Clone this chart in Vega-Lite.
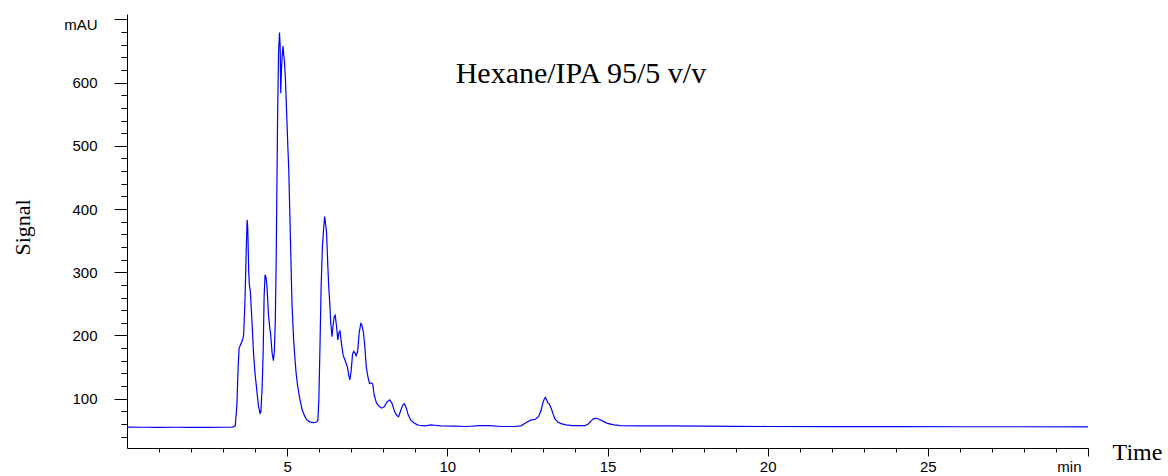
{
  "$schema": "https://vega.github.io/schema/vega-lite/v6.json",
  "autosize": "none",
  "width": 961,
  "height": 434,
  "padding": {"left": 127, "top": 14, "right": 80, "bottom": 28},
  "background": "white",
  "config": {"view": {"stroke": null}},
  "datasets": {
    "trace": [
      {"t": 0, "v": 55}, {"t": 0.5, "v": 54.8}, {"t": 1.0, "v": 54.7}, {"t": 1.5, "v": 54.8}, {"t": 2.0, "v": 54.6},
      {"t": 2.5, "v": 54.7}, {"t": 3.0, "v": 54.8}, {"t": 3.3, "v": 55}, {"t": 3.38, "v": 57}, {"t": 3.43, "v": 90},
      {"t": 3.47, "v": 150}, {"t": 3.5, "v": 180}, {"t": 3.55, "v": 186}, {"t": 3.6, "v": 192}, {"t": 3.64, "v": 200},
      {"t": 3.68, "v": 250}, {"t": 3.72, "v": 330}, {"t": 3.75, "v": 383}, {"t": 3.77, "v": 370}, {"t": 3.8, "v": 300},
      {"t": 3.82, "v": 280}, {"t": 3.85, "v": 270}, {"t": 3.9, "v": 224}, {"t": 3.95, "v": 172}, {"t": 4.0, "v": 138},
      {"t": 4.04, "v": 119}, {"t": 4.1, "v": 90}, {"t": 4.15, "v": 77}, {"t": 4.18, "v": 79}, {"t": 4.22, "v": 120},
      {"t": 4.25, "v": 172}, {"t": 4.28, "v": 260}, {"t": 4.31, "v": 296}, {"t": 4.34, "v": 292}, {"t": 4.37, "v": 277},
      {"t": 4.42, "v": 230}, {"t": 4.46, "v": 210}, {"t": 4.48, "v": 204}, {"t": 4.53, "v": 172}, {"t": 4.57, "v": 160},
      {"t": 4.6, "v": 175}, {"t": 4.63, "v": 224}, {"t": 4.66, "v": 330}, {"t": 4.7, "v": 541}, {"t": 4.73, "v": 646},
      {"t": 4.76, "v": 679}, {"t": 4.78, "v": 660}, {"t": 4.8, "v": 583}, {"t": 4.82, "v": 620}, {"t": 4.85, "v": 646},
      {"t": 4.87, "v": 658}, {"t": 4.9, "v": 640}, {"t": 4.92, "v": 631}, {"t": 4.95, "v": 600}, {"t": 4.98, "v": 557},
      {"t": 5.02, "v": 500}, {"t": 5.05, "v": 462}, {"t": 5.1, "v": 356}, {"t": 5.15, "v": 251}, {"t": 5.2, "v": 195},
      {"t": 5.23, "v": 172}, {"t": 5.28, "v": 140}, {"t": 5.33, "v": 119}, {"t": 5.4, "v": 98}, {"t": 5.47, "v": 82},
      {"t": 5.55, "v": 72}, {"t": 5.62, "v": 66}, {"t": 5.72, "v": 63}, {"t": 5.83, "v": 62}, {"t": 5.92, "v": 63},
      {"t": 5.96, "v": 66}, {"t": 5.99, "v": 100}, {"t": 6.02, "v": 172}, {"t": 6.06, "v": 277}, {"t": 6.1, "v": 340},
      {"t": 6.14, "v": 370}, {"t": 6.17, "v": 388}, {"t": 6.19, "v": 380}, {"t": 6.21, "v": 372}, {"t": 6.23, "v": 362},
      {"t": 6.27, "v": 309}, {"t": 6.3, "v": 275}, {"t": 6.33, "v": 251}, {"t": 6.36, "v": 220}, {"t": 6.4, "v": 198},
      {"t": 6.43, "v": 215}, {"t": 6.47, "v": 230}, {"t": 6.5, "v": 232}, {"t": 6.54, "v": 215}, {"t": 6.58, "v": 193},
      {"t": 6.62, "v": 205}, {"t": 6.65, "v": 207}, {"t": 6.7, "v": 185}, {"t": 6.75, "v": 168}, {"t": 6.8, "v": 162},
      {"t": 6.88, "v": 150}, {"t": 6.93, "v": 135}, {"t": 6.96, "v": 130}, {"t": 7.0, "v": 145}, {"t": 7.04, "v": 170},
      {"t": 7.08, "v": 175}, {"t": 7.12, "v": 172}, {"t": 7.15, "v": 168}, {"t": 7.2, "v": 175}, {"t": 7.25, "v": 205},
      {"t": 7.3, "v": 219}, {"t": 7.33, "v": 217}, {"t": 7.38, "v": 205}, {"t": 7.42, "v": 185}, {"t": 7.47, "v": 150},
      {"t": 7.52, "v": 135}, {"t": 7.57, "v": 124}, {"t": 7.62, "v": 125}, {"t": 7.67, "v": 123}, {"t": 7.72, "v": 105},
      {"t": 7.79, "v": 93}, {"t": 7.87, "v": 88}, {"t": 7.95, "v": 85}, {"t": 8.03, "v": 87}, {"t": 8.12, "v": 95},
      {"t": 8.2, "v": 98}, {"t": 8.27, "v": 93}, {"t": 8.35, "v": 80}, {"t": 8.43, "v": 73}, {"t": 8.48, "v": 71.5},
      {"t": 8.55, "v": 82}, {"t": 8.62, "v": 91}, {"t": 8.66, "v": 92}, {"t": 8.72, "v": 85}, {"t": 8.78, "v": 74},
      {"t": 8.86, "v": 66}, {"t": 8.95, "v": 62}, {"t": 9.05, "v": 59}, {"t": 9.12, "v": 58}, {"t": 9.3, "v": 57},
      {"t": 9.5, "v": 58.5}, {"t": 9.6, "v": 58}, {"t": 9.8, "v": 57}, {"t": 10.2, "v": 56.5}, {"t": 10.6, "v": 56},
      {"t": 11.0, "v": 57.5}, {"t": 11.3, "v": 57.5}, {"t": 11.7, "v": 56}, {"t": 12.1, "v": 56}, {"t": 12.3, "v": 57},
      {"t": 12.45, "v": 62}, {"t": 12.6, "v": 66}, {"t": 12.75, "v": 67.5}, {"t": 12.85, "v": 72}, {"t": 12.93, "v": 82},
      {"t": 12.98, "v": 93}, {"t": 13.03, "v": 100}, {"t": 13.06, "v": 102}, {"t": 13.1, "v": 98}, {"t": 13.14, "v": 93},
      {"t": 13.18, "v": 92}, {"t": 13.24, "v": 85}, {"t": 13.3, "v": 76}, {"t": 13.36, "v": 68}, {"t": 13.45, "v": 63},
      {"t": 13.55, "v": 60.5}, {"t": 13.7, "v": 58.5}, {"t": 13.9, "v": 57.5}, {"t": 14.1, "v": 57.3}, {"t": 14.3, "v": 57.3},
      {"t": 14.4, "v": 60}, {"t": 14.49, "v": 65}, {"t": 14.57, "v": 68.5}, {"t": 14.65, "v": 69}, {"t": 14.75, "v": 67},
      {"t": 14.85, "v": 64.5}, {"t": 15.0, "v": 61}, {"t": 15.2, "v": 58.5}, {"t": 15.4, "v": 57.5}, {"t": 16, "v": 57},
      {"t": 17, "v": 57}, {"t": 18, "v": 56.5}, {"t": 19, "v": 56.3}, {"t": 20, "v": 56}, {"t": 22, "v": 55.8},
      {"t": 24, "v": 55.7}, {"t": 26, "v": 55.6}, {"t": 28, "v": 55.6}, {"t": 30, "v": 55.5}
    ],
    "note": [{"t": 14.17, "v": 600, "label": "Hexane/IPA 95/5 v/v"}]
  },
  "layer": [
    {
      "data": {"name": "trace"},
      "mark": {"type": "line", "color": "#0000ff", "strokeWidth": 1.2, "clip": true},
      "encoding": {
        "x": {
          "field": "t", "type": "quantitative",
          "scale": {"domain": [0, 30], "nice": false, "zero": false},
          "axis": {
            "values": [1,2,3,4,5,6,7,8,9,10,11,12,13,14,15,16,17,18,19,20,21,22,23,24,25,26,27,28,29,30],
            "tickCount": 200,
            "format": "d",
            "labelExpr": "datum.value == 30 ? 'min' : (datum.value % 5 == 0 ? datum.label : '')",
            "grid": false,
            "domainColor": "black", "domainWidth": 1,
            "tickColor": "black", "tickWidth": 1,
            "tickSize": {"condition": {"test": "datum.value % 5 == 0", "value": 8}, "value": 4},
            "labelPadding": 3,
            "labelFont": "Liberation Sans", "labelFontSize": 15, "labelColor": "black",
            "labelAlign": {"condition": {"test": "datum.value == 30", "value": "right"}, "value": "center"},
            "labelOffset": {"condition": {"test": "datum.value == 30", "value": -7}, "value": 0},
            "labelOverlap": false,
            "title": "Time",
            "titleFont": "Liberation Serif", "titleFontSize": 24, "titleFontWeight": "normal", "titleColor": "black",
            "titleX": 1010, "titleY": 4, "titleAlign": "center", "titleBaseline": "middle", "titleAnchor": null
          }
        },
        "y": {
          "field": "v", "type": "quantitative",
          "scale": {"domain": [22, 708.5], "nice": false, "zero": false},
          "axis": {
            "values": [40,60,80,100,120,140,160,180,200,220,240,260,280,300,320,340,360,380,400,420,440,460,480,500,520,540,560,580,600,620,640,660,680,700],
            "tickCount": 200,
            "format": "d",
            "labelExpr": "datum.value == 700 ? 'mAU' : (datum.value % 100 == 0 ? datum.label : '')",
            "grid": false,
            "domainColor": "black", "domainWidth": 1,
            "tickColor": "black", "tickWidth": 1,
            "tickSize": {"condition": {"test": "datum.value % 100 == 0", "value": 13}, "value": 6},
            "labelPadding": 17,
            "labelFont": "Liberation Sans", "labelFontSize": 15, "labelColor": "black",
            "labelOffset": {"condition": {"test": "datum.value == 700", "value": 5}, "value": 0},
            "labelOverlap": false,
            "title": "Signal",
            "titleFont": "Liberation Serif", "titleFontSize": 22, "titleFontWeight": "normal", "titleColor": "black",
            "titleAngle": -90, "titleX": -105, "titleY": 213, "titleAlign": "center", "titleBaseline": "middle", "titleAnchor": null
          }
        }
      }
    },
    {
      "data": {"name": "note"},
      "mark": {"type": "text", "font": "Liberation Serif", "fontSize": 30, "align": "center", "baseline": "alphabetic", "color": "black"},
      "encoding": {
        "x": {"field": "t", "type": "quantitative"},
        "y": {"field": "v", "type": "quantitative"},
        "text": {"field": "label"}
      }
    }
  ]
}
